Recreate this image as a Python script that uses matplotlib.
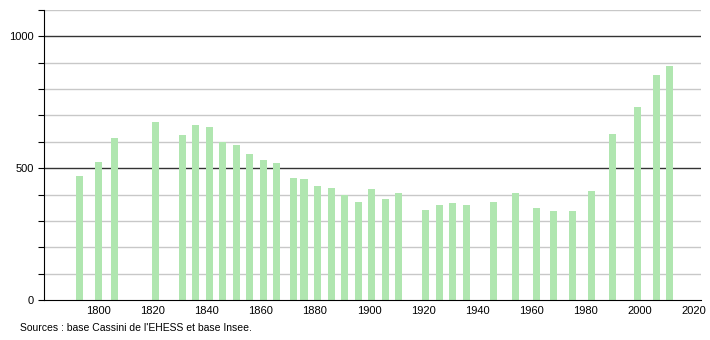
import matplotlib
matplotlib.use('Agg')
import matplotlib.pyplot as plt

# census years and population
years = [1793, 1800, 1806, 1821, 1831, 1836, 1841, 1846, 1851, 1856, 1861,
         1866, 1872, 1876, 1881, 1886, 1891, 1896, 1901, 1906, 1911, 1921,
         1926, 1931, 1936, 1946, 1954, 1962, 1968, 1975, 1982, 1990, 1999,
         2006, 2011]
population = [469, 525, 616, 677, 627, 662, 658, 601, 589, 555, 530,
              521, 463, 459, 433, 425, 397, 373, 421, 383, 407, 342,
              361, 368, 361, 373, 407, 349, 338, 338, 413, 631, 731,
              852, 886]
xticks = [1800, 1820, 1840, 1860, 1880, 1900, 1920, 1940, 1960, 1980, 2000, 2020]
yticks_major = [0, 500, 1000]
source = "Sources : base Cassini de l'EHESS et base Insee."

plt.rcParams['font.family'] = ['Liberation Sans', 'DejaVu Sans']

fig = plt.figure(figsize=(7.1, 3.4), dpi=100)
ax = fig.add_axes([0.062, 0.1176, 0.925, 0.853])

# grid every 100, darker every 500
for v in range(100, 1200, 100):
    if v % 500 == 0:
        ax.axhline(v, color='#333333', lw=1.0, zorder=1)
    else:
        ax.axhline(v, color='#c8c8c8', lw=1.0, zorder=1)

ax.bar(years, population, width=2.6, color='#b0e6b0', zorder=2)

ax.set_xlim(1780, 2022.5)
ax.set_ylim(0, 1100)
ax.set_xticks(xticks)
ax.set_xticklabels([str(x) for x in xticks])
ax.set_yticks(yticks_major)
ax.set_yticks(range(0, 1200, 100), minor=True)
ax.tick_params(axis='x', length=0, labelsize=8, pad=4)
ax.tick_params(axis='y', which='both', length=4, labelsize=8, width=0.8)
ax.tick_params(axis='y', which='minor', labelleft=False)

for side in ['top', 'right']:
    ax.spines[side].set_visible(False)
ax.spines['left'].set_color('black')
ax.spines['bottom'].set_color('black')

fig.text(0.028, 0.035, source, fontsize=7.5, va='center', ha='left')

fig.savefig('out.png', dpi=100)
